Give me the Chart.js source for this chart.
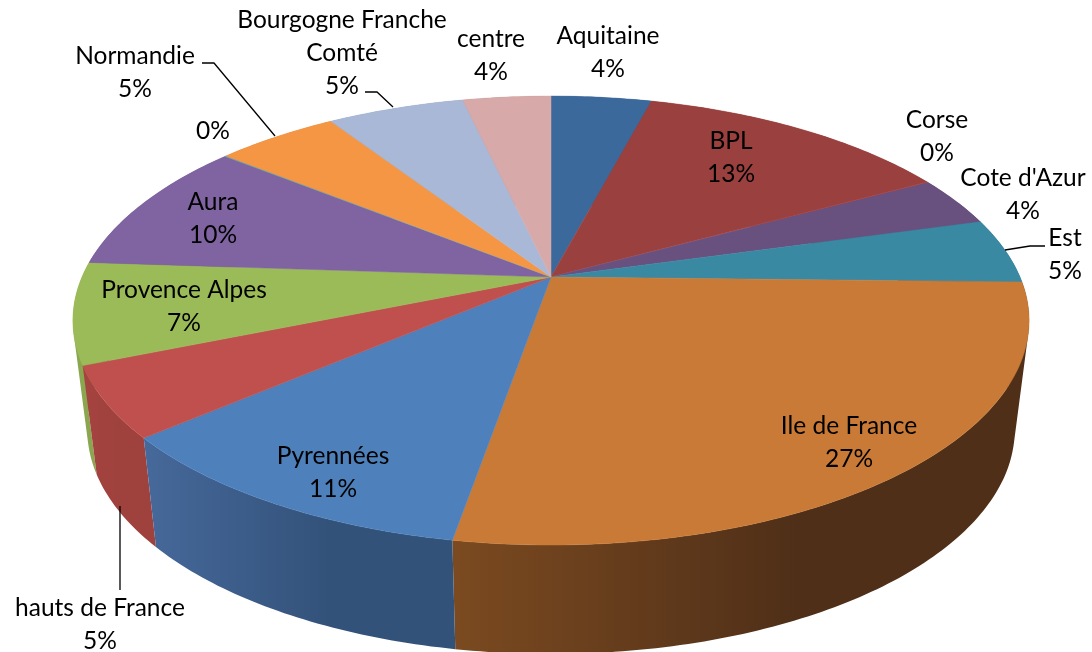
<!DOCTYPE html>
<html>
<head>
<meta charset="utf-8">
<style>
  html,body{margin:0;padding:0;background:#fff;}
  #pie{display:block;}
</style>
<script src="https://cdn.jsdelivr.net/npm/chart.js@4"></script>
</head>
<body>
<canvas id="pie" width="1092" height="652"></canvas>
<script>
// values
const regions = ['Aquitaine','BPL','Corse',"Cote d'Azur",'Est','Ile de France','Pyrennées','hauts de France','Provence Alpes','Aura','','Normandie','Bourgogne Franche Comté','centre'];
const shares = [4.1,12.95,0.05,3.6,4.7,27.4,11.0,5.1,7.3,9.7,0.05,5.0,5.6,3.6];
const percents = ['4%','13%','0%','4%','5%','27%','11%','5%','7%','10%','0%','5%','5%','4%'];

const topColors = ['#3c699c','#9a403e','#c0504d','#68507f','#3a89a3','#c97a37','#4e80bc','#bf504d','#9bbb59','#8063a1','#4bacc6','#f59645','#a9b8d6','#d7a9a9'];
const wallLeft = ['#2f5278','#7a3230','#7a3230','#523f64','#2d6c80','#7b4a20','#46699b','#a5433f','#89a54f','#654e80','#3a8a9e','#c27636','#8591aa','#a98585'];
const wallRight = ['#2f5278','#7a3230','#7a3230','#523f64','#2d6c80','#4f2f18','#33527a','#9f413d','#8aa64f','#654e80','#3a8a9e','#c27636','#8591aa','#a98585'];

// label placement: text lines share the same centre x, first line y, then step
const labelX = [608,731,937,1023,1065,849,333,100,184,213,213,135,342,491];
const labelY = [36,141,120,178,238,426,456,608,290,202,131,56,20,39];
const labelLines = [
  ['Aquitaine'],['BPL'],['Corse'],["Cote d'Azur"],['Est'],['Ile de France'],['Pyrennées'],
  ['hauts de France'],['Provence Alpes'],['Aura'],[],['Normandie'],['Bourgogne Franche','Comté'],['centre']
];
const leaders = [
  [[202,63],[214,63],[275,136]],
  [[365,92],[377,92],[393,107]],
  [[1045,246],[1030,246],[1005,250]],
  [[120,506],[120,590]]
];

// perspective of the tilted disc
const CX = 551, CY = 277, RX = 469, RY = 216, PERSP = 0.194;
// walls lean in a little towards the centre
const WALL_H = 109, WALL_IN = 0.03;

function rim(angle){
  const w = 1 - PERSP*Math.sin(angle);
  return [CX + RX*Math.cos(angle)/w, CY + RY*Math.sin(angle)/w];
}
function drop(p){
  return [p[0] + (CX-p[0])*WALL_IN, p[1] + WALL_H];
}
function arcPoints(a0,a1){
  const n = Math.max(2, Math.ceil((a1-a0)/0.015));
  const pts = [];
  for(let i=0;i<=n;i++) pts.push(rim(a0 + (a1-a0)*i/n));
  return pts;
}
function signedArea(q){
  let s = 0;
  q.forEach((p,i)=>{
    const n = q[(i+1)%q.length];
    s += p[0]*n[1] - n[0]*p[1];
  });
  return s;
}

const pie3d = {
  id:'pie3d',
  beforeDatasetDraw(chart,args){
    const ctx = chart.ctx;
    const arcs = args.meta.data;
    const order = arcs.map((a,i)=>i).sort((p,q)=>{
      return Math.sin((arcs[p].startAngle+arcs[p].endAngle)/2) - Math.sin((arcs[q].startAngle+arcs[q].endAngle)/2);
    });

    // outer walls first, back to front. one path per slice so no seams show
    order.forEach(i=>{
      const pts = arcPoints(arcs[i].startAngle, arcs[i].endAngle);
      const xs = pts.map(p=>p[0]);
      const g = ctx.createLinearGradient(Math.min(...xs),0,Math.max(...xs),0);
      g.addColorStop(0,wallLeft[i]);
      g.addColorStop(0.6,wallRight[i]);
      g.addColorStop(1,wallRight[i]);
      ctx.beginPath();
      for(let j=0;j<pts.length-1;j++){
        let q = [pts[j], pts[j+1], drop(pts[j+1]), drop(pts[j])];
        if(signedArea(q) < 0) q = q.reverse();
        q.forEach((p,k)=> k ? ctx.lineTo(p[0],p[1]) : ctx.moveTo(p[0],p[1]));
        ctx.closePath();
      }
      ctx.fillStyle = g;
      ctx.fill('nonzero');
    });

    // top face
    arcs.forEach((arc,i)=>{
      const pts = arcPoints(arc.startAngle, arc.endAngle);
      ctx.beginPath();
      ctx.moveTo(CX,CY);
      pts.forEach(p=>ctx.lineTo(p[0],p[1]));
      ctx.closePath();
      ctx.fillStyle = topColors[i];
      ctx.strokeStyle = topColors[i];
      ctx.lineWidth = 0.5;
      ctx.fill();
      ctx.stroke();
    });
    return false;
  },
  afterDatasetsDraw(chart){
    const ctx = chart.ctx;
    ctx.strokeStyle = '#000';
    ctx.lineWidth = 1.3;
    leaders.forEach(l=>{
      ctx.beginPath();
      l.forEach((p,j)=> j ? ctx.lineTo(p[0],p[1]) : ctx.moveTo(p[0],p[1]));
      ctx.stroke();
    });
    ctx.fillStyle = '#000';
    ctx.font = '24.5px Lato';
    ctx.textAlign = 'center';
    ctx.textBaseline = 'middle';
    labelLines.forEach((lines,i)=>{
      const all = lines.concat(percents[i]);
      all.forEach((t,j)=> ctx.fillText(t, labelX[i], labelY[i] + j*33));
    });
  }
};

new Chart(document.getElementById('pie').getContext('2d'), {
  type:'pie',
  data:{
    labels: regions,
    datasets:[{ data: shares, backgroundColor: topColors, borderWidth:0 }]
  },
  options:{
    responsive:false,
    animation:false,
    plugins:{ legend:{display:false}, tooltip:{enabled:false} }
  },
  plugins:[pie3d]
});
</script>
</body>
</html>
